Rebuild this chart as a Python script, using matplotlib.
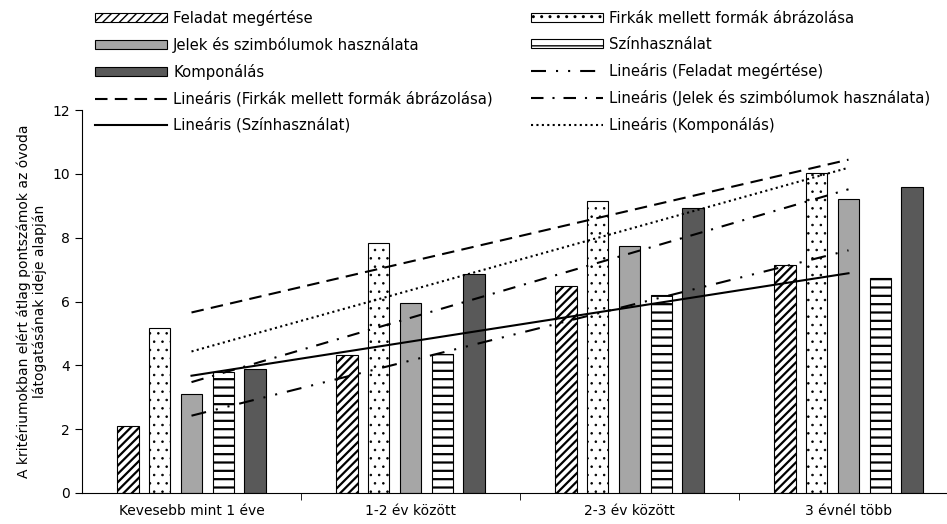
import numpy as np
import matplotlib
matplotlib.use('Agg')
import matplotlib.pyplot as plt

# kategóriák (óvodába járás ideje)
categories = ['Kevesebb mint 1 éve', '1-2 év között', '2-3 év között', '3 évnél több']

# átlag pontszámok kritériumonként
feladat = [2.11, 4.32, 6.47, 7.15]
firkak = [5.16, 7.84, 9.16, 10.04]
jelek = [3.09, 5.95, 7.73, 9.21]
szin = [3.80, 4.36, 6.21, 6.75]
kompon = [3.88, 6.86, 8.92, 9.59]

series_names = ['Feladat megértése', 'Firkák mellett formák ábrázolása',
                'Jelek és szimbólumok használata', 'Színhasználat', 'Komponálás']

plt.rcParams['font.family'] = 'DejaVu Sans'

fig = plt.figure(figsize=(9.47, 5.24), dpi=100)
ax = fig.add_axes([82 / 947, 31 / 524, 876 / 947, 383 / 524])

x = np.arange(len(categories))
step = 0.146
width = 0.10

# oszlopok stílusa: kitöltés, minta, minta vonalvastagság
bar_styles = [
    ('white', '////', 1.6),
    ('white', '..', 0.6),
    ('#a6a6a6', None, 1.0),
    ('white', '--', 1.6),
    ('#595959', None, 1.0),
]
# trendvonalak stílusa
line_styles = [
    (0, (7.2, 4.8, 1, 4.8, 1, 4.8)),
    (0, (6, 3.5)),
    (0, (6, 4.3, 1, 4.3)),
    '-',
    (0, (1, 1.6)),
]

data = [feladat, firkak, jelek, szin, kompon]
bar_handles = []
line_handles = []
for i, vals in enumerate(data):
    fc, hatch, hlw = bar_styles[i]
    with plt.rc_context({'hatch.linewidth': hlw}):
        b = ax.bar(x + (i - 2) * step, vals, width, facecolor=fc, hatch=hatch,
                   edgecolor='black', linewidth=0.8, label=series_names[i], zorder=2)
        for p in b:
            if hasattr(p, 'set_hatch_linewidth'):
                p.set_hatch_linewidth(hlw)
    bar_handles.append(b)

# lineáris trendvonalak
for i, vals in enumerate(data):
    k, c = np.polyfit(x, vals, 1)
    ln, = ax.plot(x, k * x + c, color='black', linewidth=1.5, linestyle=line_styles[i],
                  label=f'Lineáris ({series_names[i]})', zorder=3)
    line_handles.append(ln)

ax.set_xlim(-0.5, 3.5)
ax.set_ylim(0, 12)
ax.set_yticks(np.arange(0, 13, 2))
ax.set_xticks(x)
ax.set_xticklabels(categories, fontsize=10)
ax.set_xticks([0.5, 1.5, 2.5], minor=True)
ax.tick_params(axis='x', which='major', length=0, pad=8)
ax.tick_params(axis='x', which='minor', length=5, direction='out')
ax.tick_params(axis='y', length=5, direction='out', labelsize=10)

ax.spines['top'].set_visible(False)
ax.spines['right'].set_visible(False)

ax.set_ylabel('A kritériumokban elért átlag pontszámok az óvoda\nlátogatásának ideje alapján',
              fontsize=10, labelpad=4, linespacing=1.15)

handles = bar_handles + line_handles
labels = [h.get_label() for h in handles]
order = list(range(0, 10, 2)) + list(range(1, 10, 2))
fig.legend([handles[i] for i in order], [labels[i] for i in order],
           loc='upper left', bbox_to_anchor=(95 / 947, 1 - 10 / 524), ncol=2,
           frameon=False, fontsize=10.7, handlelength=4.85, handleheight=0.6,
           handletextpad=0.4, columnspacing=2.55, labelspacing=0.74,
           borderpad=0, borderaxespad=0)

fig.savefig('out.png', dpi=100)
